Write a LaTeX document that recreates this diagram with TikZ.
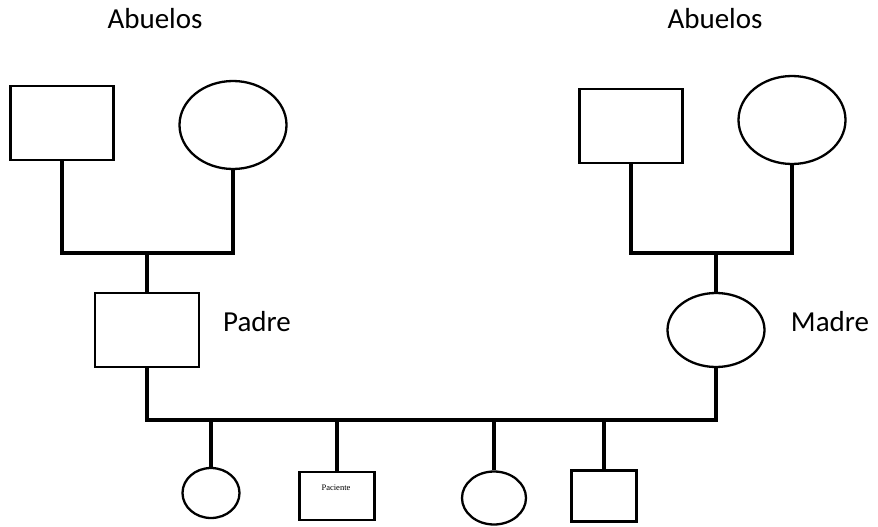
\documentclass[tikz,border=0pt]{standalone}
\usepackage{fontspec}
\setmainfont{Carlito}
\newfontfamily\serifchica{Liberation Serif}
\usepackage{tikz}
\usetikzlibrary{shapes.geometric}

\begin{document}
\begin{tikzpicture}[x=1pt,y=-1pt,
  varon/.style={draw,rectangle,line width=2.3pt,inner sep=0pt},
  mujer/.style={draw,ellipse,line width=2.3pt,inner sep=0pt},
  linea/.style={line width=4pt},
  etiqueta/.style={anchor=base,font=\fontsize{29}{34}\selectfont}]
  \useasboundingbox (0,0) rectangle (878,527);
  % abuelos
  \node[etiqueta] (tituloL) at (155,29) {Abuelos};
  \node[etiqueta] (tituloR) at (715,29) {Abuelos};
  \node[varon,minimum width=103pt,minimum height=74pt] (abueloL) at (62,123) {};
  \node[mujer,minimum width=107pt,minimum height=88pt] (abuelaL) at (233,125) {};
  \node[varon,minimum width=103pt,minimum height=74pt] (abueloR) at (631,126) {};
  \node[mujer,minimum width=107pt,minimum height=88pt] (abuelaR) at (792,120) {};
  % padres
  \node[varon,minimum width=104pt,minimum height=74pt] (padre) at (147,330) {};
  \node[etiqueta] (txtpadre) at (257,331) {Padre};
  \node[mujer,minimum width=97pt,minimum height=74pt] (madre) at (716,330) {};
  \node[etiqueta] (txtmadre) at (830,331) {Madre};
  % hijos
  \node[mujer,minimum width=57pt,minimum height=50pt] (hija1) at (211,493) {};
  \node[varon,minimum width=75pt,minimum height=48pt] (paciente) at (337,496) {};
  \node[anchor=base,font=\serifchica\fontsize{8.5}{10}\selectfont] (txtpaciente) at (336,490) {Paciente};
  \node[mujer,minimum width=64pt,minimum height=53pt] (hija2) at (494,498) {};
  \node[varon,minimum width=65pt,minimum height=51pt] (hijo) at (604,496) {};

  \coordinate (parejaL) at (147,253);
  \coordinate (parejaR) at (716,253);
  \coordinate (hijos) at (430,420);

  \draw[linea] (abueloL.south) |- (parejaL) -| (abuelaL.south);
  \draw[linea] (parejaL) -- (padre.north);
  \draw[linea] (abueloR.south) |- (parejaR) -| (abuelaR.south);
  \draw[linea] (parejaR) -- (madre.north);
  \draw[linea] (padre.south) |- (hijos) -| (madre.south);
  \draw[linea] (hija1.north |- hijos) -- (hija1.north);
  \draw[linea] (paciente.north |- hijos) -- (paciente.north);
  \draw[linea] (hija2.north |- hijos) -- (hija2.north);
  \draw[linea] (hijo.north |- hijos) -- (hijo.north);
\end{tikzpicture}
\end{document}
